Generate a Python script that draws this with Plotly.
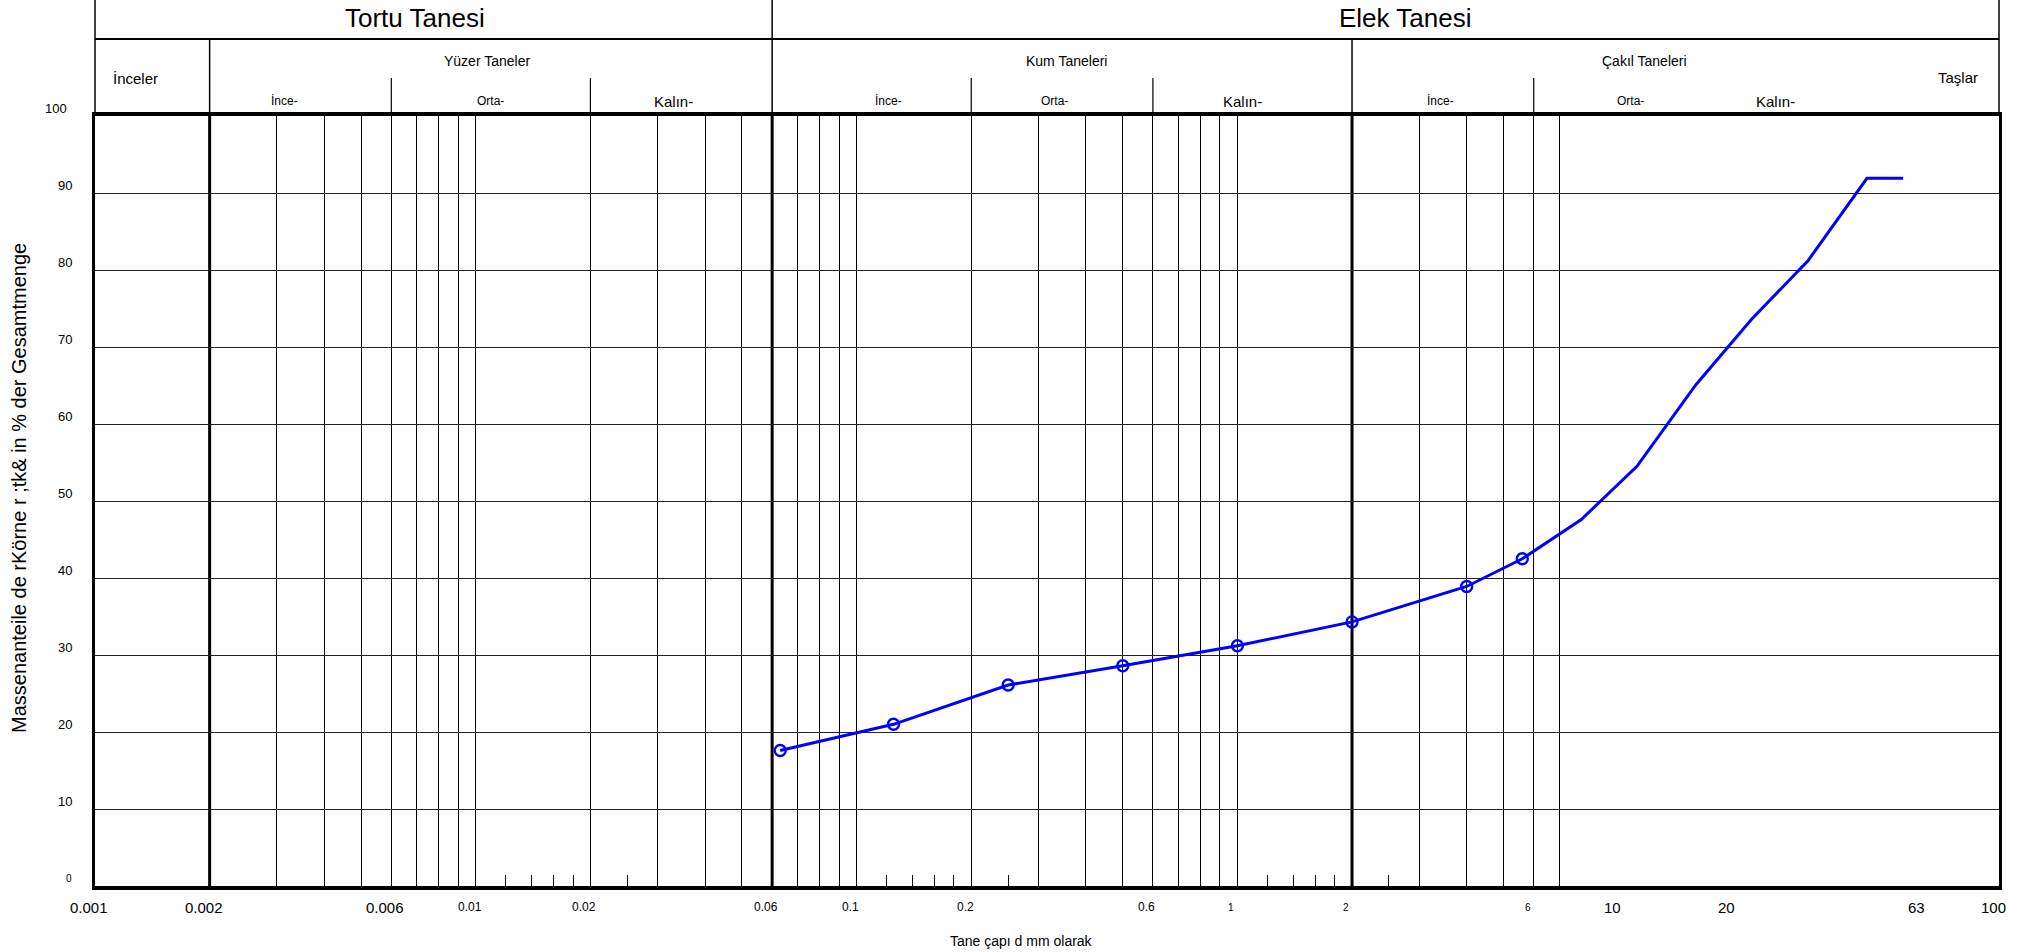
import math
import plotly.graph_objects as go

# ---------------- data ----------------
sieve_mm = [0.063, 0.125, 0.25, 0.5, 1, 2, 4, 5.6, 8, 11.2, 16, 22.4, 31.5, 45, 56]
passing_pct = [17.6, 21.0, 26.1, 28.6, 31.2, 34.3, 38.9, 42.5, 47.6, 54.5, 65.1, 73.6, 81.2, 91.9, 91.9]
measured = [True, True, True, True, True, True, True, True,
            False, False, False, False, False, False, False]

grid_x = [0.003, 0.004, 0.005, 0.006, 0.007, 0.008, 0.009, 0.01,
          0.02, 0.03, 0.04, 0.05, 0.07, 0.08, 0.09, 0.1,
          0.2, 0.3, 0.4, 0.5, 0.6, 0.7, 0.8, 0.9, 1,
          3, 4, 5, 6, 7]
bold_x = [0.002, 0.06, 2]
minor_x = [0.012, 0.014, 0.016, 0.018, 0.025,
           0.12, 0.14, 0.16, 0.18, 0.25,
           1.2, 1.4, 1.6, 1.8, 2.5]
grid_y = [10, 20, 30, 40, 50, 60, 70, 80, 90]
y_label_vals = [0, 10, 20, 30, 40, 50, 60, 70, 80, 90, 100]

x_label_vals = [0.001, 0.002, 0.006, 0.01, 0.02, 0.06, 0.1, 0.2, 0.6, 1, 2, 6, 10, 20, 63, 100]
x_label_text = ["0.001", "0.002", "0.006", "0.01", "0.02", "0.06", "0.1", "0.2", "0.6",
                "1", "2", "6", "10", "20", "63", "100"]
x_label_class = ["L", "L", "L", "M", "M", "M", "M", "M", "M", "S", "S", "S", "L", "L", "L", "L"]

header_main = ["Tortu Tanesi", "Elek Tanesi"]
header_groups = ["İnceler", "Yüzer Taneler", "Kum Taneleri", "Çakıl Taneleri", "Taşlar"]
header_sub = ["İnce-", "Orta-", "Kalın-", "İnce-", "Orta-", "Kalın-", "İnce-", "Orta-", "Kalın-"]
header_full_div = [0.002, 2]
header_top_div = [0.06]
header_sub_div = [0.006, 0.02, 0.2, 0.6, 6]

x_title = "Tane çapı d mm olarak"
y_title = "Massenanteile de rKörne r ;tk& in % der Gesamtmenge"

# ---------------- layout geometry ----------------
W, H = 2039, 952
L, R, T, B = 95, 40, 116, 66
PW, PH = W - L - R, H - T - B


def py(px_y):  # pixel row -> paper y
    return (H - B - px_y) / PH


def px(px_x):  # pixel column -> paper x
    return (px_x - L) / PW


FONT = "Arial, Liberation Sans, sans-serif"
BLUE = "#0000ff"

fig = go.Figure()
fig.add_trace(go.Scatter(
    x=sieve_mm, y=passing_pct, mode="lines+markers",
    line=dict(color=BLUE, width=3),
    marker=dict(symbol="circle-open", size=11, color=BLUE,
                line=dict(color=BLUE, width=2.4),
                opacity=[1 if m else 0 for m in measured]),
    showlegend=False, hoverinfo="x+y",
))

shapes = []
# bold grid lines in plot
for v in bold_x:
    shapes.append(dict(type="line", xref="x", yref="y", x0=v, x1=v, y0=0, y1=100,
                       line=dict(color="black", width=3), layer="below"))
# header structure
hdr_top, hdr_div, hdr_sub = py(0), py(39), py(78)
shapes.append(dict(type="line", xref="paper", yref="paper", x0=0, x1=1, y0=hdr_div, y1=hdr_div,
                   line=dict(color="black", width=2)))
for xv in [0, 1]:
    shapes.append(dict(type="line", xref="paper", yref="paper", x0=xv, x1=xv, y0=1, y1=hdr_top,
                       line=dict(color="black", width=1.5)))
for v in header_top_div:
    shapes.append(dict(type="line", xref="x", yref="paper", x0=v, x1=v, y0=1, y1=hdr_top,
                       line=dict(color="black", width=1.5)))
for v in header_full_div:
    shapes.append(dict(type="line", xref="x", yref="paper", x0=v, x1=v, y0=1, y1=hdr_div,
                       line=dict(color="black", width=1.5)))
for v in header_sub_div:
    shapes.append(dict(type="line", xref="x", yref="paper", x0=v, x1=v, y0=1, y1=hdr_sub,
                       line=dict(color="black", width=1.2)))

ann = []


def add_text(text, x, y, size, xanchor="center", yanchor="middle", xref="paper", yref="paper",
             xshift=0, yshift=0, textangle=0):
    ann.append(dict(text=text, x=x, y=y, xref=xref, yref=yref, showarrow=False,
                    xanchor=xanchor, yanchor=yanchor, xshift=xshift, yshift=yshift,
                    textangle=textangle, font=dict(family=FONT, size=size, color="black")))


# header texts
add_text(header_main[0], px(415), py(18), 26)
add_text(header_main[1], px(1405), py(18), 26)
add_text(header_groups[0], px(135), py(79), 15)
add_text(header_groups[1], px(487), py(61), 14)
add_text(header_groups[2], px(1066), py(61), 14)
add_text(header_groups[3], px(1644), py(61), 14)
add_text(header_groups[4], px(1958), py(77), 15)
sub_px = [284, 490, 673, 888, 1054, 1242, 1440, 1630, 1775]
for t, xp in zip(header_sub, sub_px):
    add_text(t, px(xp), py(101), 15 if t.startswith("Kal") else 12)

# y tick labels
for v in y_label_vals:
    add_text(str(v), px(69 if v == 100 else 74), v, 10 if v == 0 else 13,
             xanchor="right", yref="y", yshift=8)

# x tick labels
size_map = {"L": 15, "M": 12, "S": 10}
for v, t, c in zip(x_label_vals, x_label_text, x_label_class):
    add_text(t, math.log10(v), py(907), size_map[c], xref="x", xshift=-6)

add_text(x_title, px(1021), py(941), 14)
add_text(y_title, px(19), py(488), 20, textangle=-90)

fig.update_layout(
    width=W, height=H,
    margin=dict(l=L, r=R, t=T, b=B, pad=0),
    paper_bgcolor="white", plot_bgcolor="white",
    shapes=shapes, annotations=ann,
    font=dict(family=FONT, color="black"),
    xaxis=dict(type="log", range=[-3, 2], tickmode="array", tickvals=grid_x,
               showticklabels=False, ticks="", showgrid=True, gridcolor="black", gridwidth=1.2,
               zeroline=False, showline=True, linecolor="black", linewidth=4, mirror=True,
               minor=dict(tickmode="array", tickvals=minor_x, ticks="inside", ticklen=11,
                          tickwidth=1.2, tickcolor="black", showgrid=False)),
    yaxis=dict(range=[0, 100], tickmode="array", tickvals=grid_y, showticklabels=False,
               ticks="", showgrid=True, gridcolor="#222", gridwidth=1.2, zeroline=False,
               showline=True, linecolor="black", linewidth=3, mirror=True),
)

fig.write_html("out.html", config={"displayModeBar": False},
               post_script="document.body.style.margin='0';document.body.style.overflow='hidden';")
